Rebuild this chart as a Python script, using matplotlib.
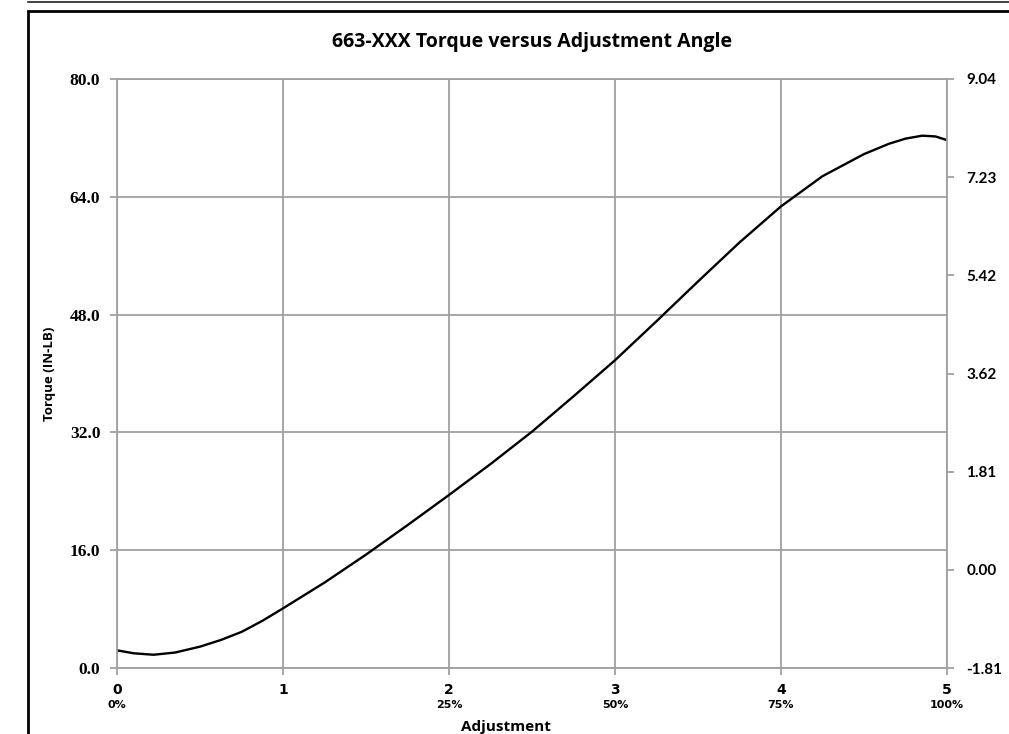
import numpy as np
import matplotlib
matplotlib.use("Agg")
import matplotlib.pyplot as plt
from matplotlib.patches import Rectangle
from matplotlib.lines import Line2D

# adjustment (turns) vs torque (in-lb)
adjust = [0.0, 0.1, 0.22, 0.35, 0.5, 0.625, 0.75, 0.875, 1.0, 1.25, 1.5, 1.75, 2.0,
          2.25, 2.5, 2.75, 3.0, 3.25, 3.5, 3.75, 4.0, 4.25, 4.5, 4.65, 4.75, 4.85,
          4.93, 5.0]
torque = [2.4, 2.0, 1.8, 2.1, 2.9, 3.8, 4.9, 6.4, 8.1, 11.6, 15.4, 19.4, 23.5,
          27.7, 32.1, 36.9, 41.8, 47.1, 52.5, 57.8, 62.7, 66.8, 69.8, 71.2, 71.9,
          72.3, 72.2, 71.7]

x_ticks = [0, 1, 2, 3, 4, 5]
x_pct = ["0%", "", "25%", "50%", "75%", "100%"]
left_ticks = [0.0, 16.0, 32.0, 48.0, 64.0, 80.0]
right_labels = ["-1.81", "0.00", "1.81", "3.62", "5.42", "7.23", "9.04"]

grid_col = "#a0a0a0"

fig = plt.figure(figsize=(10.09, 7.34), dpi=100)
ax = fig.add_axes([117 / 1009, 66 / 734, 830 / 1009, 589 / 734])

ax.plot(adjust, torque, color="black", lw=1.7, solid_capstyle="round")
ax.set_xlim(0, 5)
ax.set_ylim(0, 80)
ax.set_xticks(x_ticks)
ax.set_xticklabels([str(v) for v in x_ticks], fontsize=10, fontweight="bold",
                   family="DejaVu Sans")
ax.set_yticks(left_ticks)
ax.set_yticklabels(["%.1f" % v for v in left_ticks], fontsize=12.5, fontweight="bold",
                   family="Liberation Serif")
ax.grid(True, color=grid_col, lw=1.3)
for s in ax.spines.values():
    s.set_color(grid_col)
    s.set_linewidth(1.3)
ax.tick_params(axis="both", color=grid_col, length=5, width=1.3)
ax.tick_params(axis="x", pad=6)
ax.tick_params(axis="y", pad=7)

for xv, p in zip(x_ticks, x_pct):
    if p:
        ax.text(xv, -0.054, p, transform=ax.get_xaxis_transform(), ha="center",
                va="top", fontsize=8, fontweight="bold", family="DejaVu Sans")

ax.set_xlabel("Adjustment", fontsize=11, fontweight="bold", family="Open Sans")
ax.xaxis.set_label_coords(0.469, -0.088)
ax.set_ylabel("Torque (IN-LB)", fontsize=9.5, fontweight="bold", family="Open Sans")
ax.yaxis.set_label_coords(-0.074, 0.5)

ax2 = ax.twinx()
ax2.set_ylim(-1.81, 9.04)
ax2.set_yticks(np.linspace(-1.81, 9.04, 7))
ax2.set_yticklabels(right_labels, fontsize=11, fontweight="bold", family="Lato")
ax2.tick_params(axis="y", color=grid_col, length=5, width=1.3, pad=9)
for s in ax2.spines.values():
    s.set_visible(False)

fig.text(532 / 1009, 1 - 42 / 734, "663-XXX Torque versus Adjustment Angle",
         ha="center", va="center", fontsize=14, fontweight="bold", family="Open Sans")

# chart frame
fig.add_artist(Line2D([28 / 1009, 1.0], [1 - 1.5 / 734, 1 - 1.5 / 734],
                      transform=fig.transFigure, color="#222222", lw=1.2))
fig.add_artist(Rectangle((28 / 1009, -0.1), 1.1, 1 - 11 / 734 + 0.1,
                         transform=fig.transFigure, fill=False,
                         edgecolor="black", lw=2))

fig.savefig("out.png", dpi=100)
